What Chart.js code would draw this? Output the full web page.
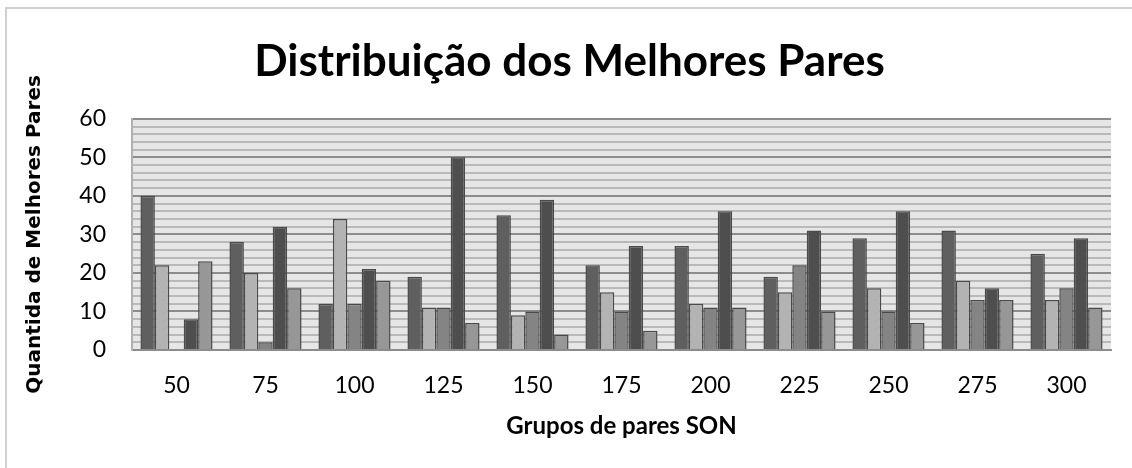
<!DOCTYPE html>
<html>
<head>
    <title>Distribuição dos Melhores Pares</title>
    <script src="https://cdn.jsdelivr.net/npm/chart.js"></script>
    <style>
        html, body { margin: 0; padding: 0; background: #fff; }
        #wrap { width: 1132px; height: 468px; }
    </style>
</head>
<body>
    <div id="wrap"><canvas id="paresChart" width="1132" height="468"></canvas></div>

    <script>
        // Dados
        const grupos = ['50', '75', '100', '125', '150', '175', '200', '225', '250', '275', '300'];
        const serie1 = [40, 28, 12, 19, 35, 22, 27, 19, 29, 31, 25];
        const serie2 = [22, 20, 34, 11, 9, 15, 12, 15, 16, 18, 13];
        const serie3 = [0, 2, 12, 11, 10, 10, 11, 22, 10, 13, 16];
        const serie4 = [8, 32, 21, 50, 39, 27, 36, 31, 36, 16, 29];
        const serie5 = [23, 16, 18, 7, 4, 5, 11, 10, 7, 13, 11];
        const coresSeries = ['#5f5f5f', '#b3b3b3', '#848484', '#4e4e4e', '#979797'];

        // Fundo da área do gráfico e moldura externa
        const fundo = {
            id: 'fundo',
            beforeDraw(chart) {
                const { ctx, chartArea: a } = chart;
                ctx.save();
                ctx.strokeStyle = '#d0d0d0';
                ctx.lineWidth = 2;
                ctx.strokeRect(6, 8, 1200, 600);
                ctx.fillStyle = '#e6e6e6';
                ctx.fillRect(a.left, a.top, a.right - a.left, a.bottom - a.top);
                ctx.restore();
            }
        };

        const series = [serie1, serie2, serie3, serie4, serie5];
        const datasets = series.map((dados, i) => ({
            label: 'Série ' + (i + 1),
            data: dados,
            backgroundColor: coresSeries[i],
            borderColor: '#4a4a4a',
            borderWidth: 1.5,
            borderSkipped: 'bottom',
            barPercentage: 1,
            categoryPercentage: 0.81
        }));

        const ctx = document.getElementById('paresChart').getContext('2d');
        const chart = new Chart(ctx, {
            type: 'bar',
            data: { labels: grupos, datasets: datasets },
            plugins: [fundo],
            options: {
                responsive: false,
                animation: false,
                layout: { padding: { left: 28, right: 21, top: 0, bottom: 0 } },
                plugins: {
                    legend: { display: false },
                    tooltip: { enabled: false },
                    title: {
                        display: true,
                        text: 'Distribuição dos Melhores Pares',
                        color: '#000',
                        font: { family: 'Lato', size: 44, weight: 'bold' },
                        padding: { top: 35, bottom: 31 }
                    }
                },
                scales: {
                    x: {
                        grid: { display: false, drawTicks: false },
                        border: { color: '#8c8c8c', width: 2 },
                        ticks: {
                            color: '#000',
                            padding: 22,
                            font: { family: 'Lato', size: 23 }
                        },
                        title: {
                            display: true,
                            text: 'Grupos de pares SON',
                            color: '#000',
                            font: { family: 'Lato', size: 24, weight: 'bold' },
                            padding: { top: 0, bottom: 27 }
                        },
                        afterFit(scale) { scale.height = 118; }
                    },
                    y: {
                        min: 0,
                        max: 60,
                        grid: {
                            drawTicks: false,
                            color: (c) => (c.tick && c.tick.value % 10 === 0) ? '#8c8c8c' : '#b9b9b9',
                            lineWidth: 2
                        },
                        border: { color: '#b0b0b0', width: 2 },
                        ticks: {
                            stepSize: 2,
                            autoSkip: false,
                            padding: 26,
                            color: '#000',
                            font: { family: 'Lato', size: 23 },
                            callback: (v) => (v % 10 === 0 ? v : '')
                        },
                        title: {
                            display: true,
                            text: 'Quantida de Melhores Pares',
                            color: '#000',
                            font: { family: 'DejaVu Sans', size: 20, weight: 'bold' },
                            padding: { top: -5, bottom: 0 }
                        },
                        afterFit(scale) { scale.width = 104; }
                    }
                }
            }
        });
    </script>
</body>
</html>
